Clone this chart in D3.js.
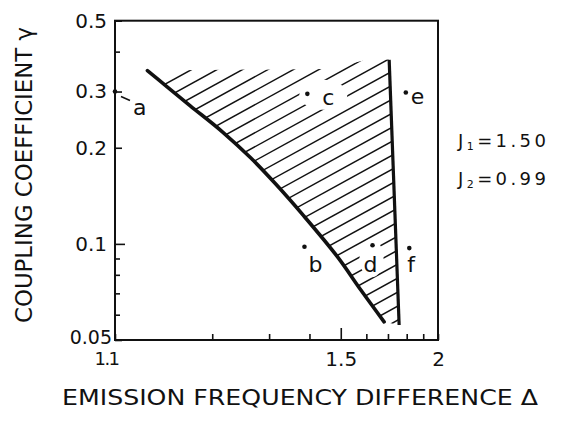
<!DOCTYPE html>
<html><head><meta charset="utf-8">
<script src="https://cdn.jsdelivr.net/npm/d3@7"></script>
<style>body{margin:0;background:#fff}svg{display:block}</style>
</head><body><svg id="chart" width="567" height="421"></svg>
<script>
// ---- data ----
const xTickValues = [1.1, 1.2, 1.3, 1.4, 1.5, 1.6, 1.7, 1.8, 1.9, 2.0];
const xTickLabels = ["1.1", "", "", "", "1.5", "", "", "", "", "2"];
const yTickValues = [0.05, 0.06, 0.07, 0.08, 0.09, 0.1, 0.2, 0.3, 0.4, 0.5];
const yTickLabels = ["0.05", "", "", "", "", "0.1", "0.2", "0.3", "", "0.5"];

// lower-left boundary of the hatched region
const boundaryDelta = [1.126, 1.145, 1.171, 1.215, 1.263, 1.314, 1.384, 1.488, 1.577, 1.681];
const boundaryGamma = [0.349, 0.3105, 0.2707, 0.2244, 0.1860, 0.1542, 0.1224, 0.0912, 0.0717, 0.0570];
// right boundary line
const limitDelta = [1.706, 1.758];
const limitGamma = [0.377, 0.0557];
// upper (open) edge of the hatching
const hatchTopDelta = [1.126, 1.459, 1.633, 1.706];
const hatchTopGamma = [0.349, 0.353, 0.382, 0.377];

// labelled points
const pointNames = ["a", "b", "c", "d", "e", "f"];
const pointDelta = [1.100, 1.386, 1.394, 1.627, 1.795, 1.815];
const pointGamma = [0.300, 0.098, 0.295, 0.099, 0.298, 0.097];

const paramNames = ["1", "2"];
const paramValues = ["1.50", "0.99"];

// ---- layout / style ----
const W = 567, H = 421;
const pLeft = 115, pRight = 438, pTop = 20.7, pBottom = 340;
const FONT = "'DejaVu Sans', 'Liberation Sans', sans-serif";
const INK = "#111";
const labelOffsets = { a: [18, 23], b: [4, 25], c: [15, 11], d: [-9, 27], e: [5, 12], f: [-2, 24] };

const svg = d3.select("#chart");
svg.append("rect").attr("width", W).attr("height", H).attr("fill", "#fff");

const xs = d3.scaleLog().domain([0.1, 1]).range([pLeft, pRight]); // log(Δ-1)
const X = d => xs(d - 1);
const Y = d3.scaleLog().domain([0.05, 0.5]).range([pBottom, pTop]);

// ---- hatched region ----
const boundaryPts = boundaryDelta.map((d, i) => [X(d), Y(boundaryGamma[i])]);
const limitPts = limitDelta.map((d, i) => [X(d), Y(limitGamma[i])]);
const topPts = hatchTopDelta.map((d, i) => [X(d), Y(hatchTopGamma[i])]);
const curveGen = d3.line().curve(d3.curveCatmullRom.alpha(0.5));

let clipD = curveGen(boundaryPts);
clipD += "L" + limitPts[1].join(",") + "L" + limitPts[0].join(",");
topPts.slice().reverse().forEach(p => clipD += "L" + p.join(","));
clipD += "Z";

const defs = svg.append("defs");
defs.append("clipPath").attr("id", "hclip").append("path").attr("d", clipD);
const mask = defs.append("mask").attr("id", "hmask").attr("maskUnits", "userSpaceOnUse")
  .attr("x", 0).attr("y", 0).attr("width", W).attr("height", H);
mask.append("rect").attr("width", W).attr("height", H).attr("fill", "#fff");
// gaps in the hatching around labels c and d
const cI = pointNames.indexOf("c"), dI = pointNames.indexOf("d");
mask.append("ellipse").attr("cx", X(pointDelta[cI]) + 16).attr("cy", Y(pointGamma[cI]) + 1)
  .attr("rx", 24).attr("ry", 15).attr("fill", "#000");
mask.append("ellipse").attr("cx", X(pointDelta[dI]) - 1).attr("cy", Y(pointGamma[dI]) + 13)
  .attr("rx", 12).attr("ry", 19).attr("fill", "#000");

const hg = svg.append("g").attr("clip-path", "url(#hclip)").append("g").attr("mask", "url(#hmask)");
const slope = 0.55, spacing = 14, refX = 395, refY = 181.7;
for (let k = -16; k <= 16; k++) {
  const y0 = refY + spacing * k;
  const x1 = 130, x2 = 420;
  hg.append("line")
    .attr("x1", x1).attr("y1", y0 - slope * (x1 - refX))
    .attr("x2", x2).attr("y2", y0 - slope * (x2 - refX))
    .attr("stroke", INK).attr("stroke-width", 1.5);
}

// boundaries
svg.append("path").attr("d", curveGen(boundaryPts))
  .attr("fill", "none").attr("stroke", INK).attr("stroke-width", 3.6).attr("stroke-linecap", "round");
svg.append("path").attr("d", d3.line()(limitPts))
  .attr("fill", "none").attr("stroke", INK).attr("stroke-width", 3.2);

// ---- frame ----
svg.append("rect").attr("x", pLeft).attr("y", pTop).attr("width", pRight - pLeft).attr("height", pBottom - pTop)
  .attr("fill", "none").attr("stroke", INK).attr("stroke-width", 2);

// ---- axes ----
const xAxis = d3.axisBottom(xs)
  .tickValues(xTickValues.map(d => d - 1))
  .tickFormat((d, i) => xTickLabels[i])
  .tickSize(-6).tickPadding(12);
const gx = svg.append("g").attr("transform", `translate(0,${pBottom})`).call(xAxis);
gx.select(".domain").remove();
gx.selectAll(".tick line").attr("stroke", INK).attr("stroke-width", 1.6)
  .attr("y2", (d, i) => (xTickLabels[i] === "1.5" ? -12 : -6));
gx.selectAll(".tick text").attr("fill", INK).style("font-family", FONT)
  .style("font-size", (d, i) => (i === 0 ? "18px" : "20px"))
  .style("letter-spacing", (d, i) => (i === 0 ? "-1.5px" : "0px"))
  .attr("dx", (d, i) => (i === 0 ? -9 : 0));

const yAxis = d3.axisLeft(Y)
  .tickValues(yTickValues)
  .tickFormat((d, i) => yTickLabels[i])
  .tickSize(-6).tickPadding(8);
const gy = svg.append("g").attr("transform", `translate(${pLeft},0)`).call(yAxis);
gy.select(".domain").remove();
gy.selectAll(".tick line").attr("stroke", INK).attr("stroke-width", 1.6)
  .attr("x2", (d, i) => (yTickLabels[i] === "0.1" ? 10 : (yTickLabels[i] ? 7 : 5)));
gy.selectAll(".tick text").attr("fill", INK).style("font-family", FONT)
  .style("font-size", (d, i) => (yTickLabels[i] === "0.05" ? "19px" : "20px"))
  .attr("dx", (d, i) => (yTickLabels[i] === "0.05" ? 5 : 0))
  .attr("y", (d, i) => (yTickLabels[i] === "0.05" ? -3 : 0));

// ---- points ----
const pg = svg.append("g");
pointNames.forEach((name, i) => {
  const px = X(pointDelta[i]), py = Y(pointGamma[i]);
  pg.append("circle").attr("cx", px).attr("cy", py).attr("r", 2.3).attr("fill", INK);
  const [dx, dy] = labelOffsets[name];
  pg.append("text").attr("x", px + dx).attr("y", py + dy).text(name)
    .attr("fill", INK).style("font-family", FONT).style("font-size", "22px");
});
// leader for "a"
const aI = pointNames.indexOf("a");
pg.append("line")
  .attr("x1", X(pointDelta[aI]) + 6).attr("y1", Y(pointGamma[aI]) + 5)
  .attr("x2", X(pointDelta[aI]) + 15).attr("y2", Y(pointGamma[aI]) + 9)
  .attr("stroke", INK).attr("stroke-width", 1.6);

// ---- parameter annotation ----
paramNames.forEach((n, i) => {
  const t = svg.append("text").attr("x", 458).attr("y", 147 + i * 38)
    .attr("fill", INK).style("font-family", FONT).style("font-size", "18px")
    .style("letter-spacing", "3.4px");
  t.append("tspan").text("J");
  t.append("tspan").text(n).style("font-size", "11px").attr("dy", 3);
  t.append("tspan").text("=").attr("dy", -3);
  t.append("tspan").text(paramValues[i]);
});

// ---- axis titles ----
svg.append("text").attr("x", 62).attr("y", 405)
  .attr("textLength", 476).attr("lengthAdjust", "spacingAndGlyphs")
  .attr("fill", INK).style("font-family", FONT).style("font-size", "21px")
  .text("EMISSION FREQUENCY DIFFERENCE Δ");
svg.append("text").attr("transform", "translate(32,323) rotate(-90)")
  .attr("textLength", 296).attr("lengthAdjust", "spacingAndGlyphs")
  .attr("fill", INK).style("font-family", FONT).style("font-size", "23px")
  .text("COUPLING COEFFICIENT γ");
</script>
</body></html>
